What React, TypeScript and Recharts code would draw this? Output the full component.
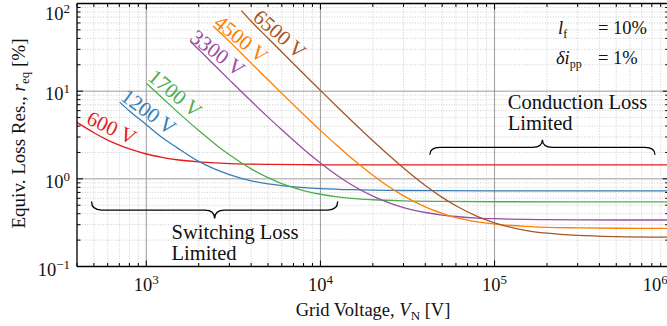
import React from "react";
import { LineChart, Line, XAxis, YAxis, CartesianGrid, ReferenceDot, ReferenceLine } from "recharts";

const FONT = '"Liberation Serif", "DejaVu Serif", serif';

// axis ticks
const xMajor = [1e3, 1e4, 1e5, 1e6];
const xMinor = [
  400, 500, 600, 700, 800, 900,
  2e3, 3e3, 4e3, 5e3, 6e3, 7e3, 8e3, 9e3,
  2e4, 3e4, 4e4, 5e4, 6e4, 7e4, 8e4, 9e4,
  2e5, 3e5, 4e5, 5e5, 6e5, 7e5, 8e5, 9e5,
];
const yMajor = [0.1, 1, 10, 100];
const yMinor = [
  0.2, 0.3, 0.4, 0.5, 0.6, 0.7, 0.8, 0.9,
  2, 3, 4, 5, 6, 7, 8, 9,
  20, 30, 40, 50, 60, 70, 80, 90,
];
const allX = [...xMinor, ...xMajor].sort((a, b) => a - b);
const allY = [...yMinor, ...yMajor].sort((a, b) => a - b);

// series: grid voltage [V] and equivalent loss resistance [%]
const v600 = [400, 500, 600, 700, 800, 1000, 1250, 1500, 2000, 2500, 3000, 4000, 5000, 8000, 10000, 100000, 1000000];
const r600 = [4.4, 3.36, 2.77, 2.42, 2.19, 1.92, 1.75, 1.65, 1.56, 1.52, 1.49, 1.47, 1.46, 1.45, 1.445, 1.44, 1.44];

const v1200 = [703, 800, 1000, 1250, 1500, 2000, 2500, 3000, 4000, 5000, 6000, 8000, 10000, 15000, 20000, 30000, 50000, 100000, 1000000];
const r1200 = [7.5, 5.95, 4.15, 2.9, 2.27, 1.58, 1.28, 1.12, 0.95, 0.875, 0.835, 0.795, 0.775, 0.752, 0.743, 0.736, 0.732, 0.73, 0.73];

const v1700 = [1000, 1250, 1500, 2000, 2500, 3000, 4000, 5000, 6000, 8000, 10000, 12500, 15000, 20000, 30000, 50000, 100000, 1000000];
const r1700 = [12.3, 8.2, 5.88, 3.55, 2.47, 1.88, 1.3, 1.03, 0.88, 0.735, 0.667, 0.624, 0.6, 0.577, 0.56, 0.552, 0.548, 0.547];

const v3300 = [1790, 2000, 2500, 3000, 4000, 5000, 6000, 8000, 10000, 12500, 15000, 20000, 25000, 30000, 40000, 50000, 60000, 80000, 100000, 150000, 200000, 300000, 1000000];
const r3300 = [36.8, 29.8, 19.2, 13.45, 7.71, 5.06, 3.62, 2.18, 1.52, 1.094, 0.863, 0.634, 0.528, 0.47, 0.413, 0.386, 0.372, 0.357, 0.351, 0.344, 0.342, 0.34, 0.339];

const v4500 = [2415, 3000, 4000, 5000, 6000, 8000, 10000, 12500, 15000, 20000, 25000, 30000, 40000, 50000, 60000, 80000, 100000, 150000, 200000, 300000, 500000, 1000000];
const r4500 = [55.5, 37.0, 20.9, 13.5, 9.44, 5.43, 3.57, 2.38, 1.74, 1.1, 0.8, 0.639, 0.478, 0.404, 0.36, 0.322, 0.305, 0.287, 0.28, 0.276, 0.273, 0.272];

const v6500 = [3516, 4000, 5000, 6000, 8000, 10000, 12500, 15000, 20000, 25000, 30000, 40000, 50000, 60000, 80000, 100000, 150000, 200000, 300000, 500000, 1000000];
const r6500 = [83, 62.7, 40.2, 28.0, 15.8, 10.2, 6.6, 4.66, 2.72, 1.82, 1.33, 0.84, 0.615, 0.493, 0.371, 0.315, 0.259, 0.24, 0.226, 0.219, 0.216];

const zip = (v: number[], r: number[]) => v.map((x, i) => ({ v: x, r: r[i] }));

const series = [
  { name: "600 V", color: "#e41a1c", data: zip(v600, r600), at: [632, 3.81], angle: 25 },
  { name: "1200 V", color: "#377eb8", data: zip(v1200, r1200), at: [1031, 5.8], angle: 36 },
  { name: "1700 V", color: "#4daf4a", data: zip(v1700, r1700), at: [1464, 9.41], angle: 40 },
  { name: "3300 V", color: "#984ea3", data: zip(v3300, r3300), at: [2570, 27.2], angle: 37 },
  { name: "4500 V", color: "#ff7f00", data: zip(v4500, r4500), at: [3508, 39.3], angle: 39 },
  { name: "6500 V", color: "#a65628", data: zip(v6500, r6500), at: [5835, 44.8], angle: 41 },
];

// layout
const W = 700;
const H = 326;
const M = { top: 3.5, right: 31.3, bottom: 0, left: 0 };
const YW = 77;
const XH = 59.5;
const PW = W - M.left - M.right - YW;
const PH = H - M.top - M.bottom - XH;

const tickLen = (major: boolean) => (major ? 6 : 3.5);

function XTick(p: any) {
  const v = p.payload.value;
  const major = xMajor.includes(v);
  const e = Math.round(Math.log10(v));
  const last = v === xMajor[xMajor.length - 1];
  const L = tickLen(major);
  return (
    <g>
      <line x1={p.x} x2={p.x} y1={p.y} y2={p.y - L} stroke="#000" strokeWidth={1} />
      <line x1={p.x} x2={p.x} y1={p.y - PH} y2={p.y - PH + L} stroke="#000" strokeWidth={1} />
      {major && (
        <text x={p.x + (last ? -1 : 0)} y={p.y + 24.5} textAnchor={last ? "end" : "middle"} fontFamily={FONT} fontSize={18.5} fill="#111">
          10<tspan dy={-7} fontSize={13}>{e}</tspan>
        </text>
      )}
    </g>
  );
}

function YTick(p: any) {
  const v = p.payload.value;
  const major = yMajor.includes(v);
  const e = Math.round(Math.log10(v));
  const top = v === yMajor[yMajor.length - 1];
  const L = tickLen(major);
  return (
    <g>
      <line x1={p.x} x2={p.x + L} y1={p.y} y2={p.y} stroke="#000" strokeWidth={1} />
      <line x1={p.x + PW} x2={p.x + PW - L} y1={p.y} y2={p.y} stroke="#000" strokeWidth={1} />
      {major && (
        <text x={p.x - 7} y={p.y + (top ? 16 : 9)} textAnchor="end" fontFamily={FONT} fontSize={18.5} fill="#111">
          10<tspan dy={-7} fontSize={13}>{e < 0 ? "\u2212" + Math.abs(e) : e}</tspan>
        </text>
      )}
    </g>
  );
}

const gridLine = (vals: number[], majors: number[]) => (p: any) => {
  const v = vals[p.index];
  if (v === undefined) return <g key={p.key} />;
  const major = majors.includes(v);
  return (
    <line
      key={p.key}
      x1={p.x1}
      y1={p.y1}
      x2={p.x2}
      y2={p.y2}
      stroke={major ? "#9c9c9c" : "#c4c4c4"}
      strokeWidth={major ? 1 : 0.8}
      strokeDasharray={major ? undefined : "1 1.6"}
    />
  );
};

const label = (text: string, color: string, angle: number) => (p: any) => (
  <text x={p.cx} y={p.cy} transform={`rotate(${angle} ${p.cx} ${p.cy})`} textAnchor="middle" dominantBaseline="central" fill={color} fontFamily={FONT} fontSize={21}>
    {text}
  </text>
);

const twoLines = (a: string, b: string) => (p: any) => (
  <text x={p.cx} y={p.cy} fontFamily={FONT} fontSize={20.5} fill="#111">
    <tspan x={p.cx}>{a}</tspan>
    <tspan x={p.cx} dy={21}>{b}</tspan>
  </text>
);

const brace = (h: number) => (p: any) => {
  const xa = Math.min(p.x1, p.x2);
  const xb = Math.max(p.x1, p.x2);
  const y = p.y1;
  const mid = (xa + xb) / 2;
  const ym = y + h / 2;
  const yc = y + h;
  const r = 10;
  const d = `M${xa},${y} Q${xa},${ym} ${xa + r},${ym} L${mid - r},${ym} Q${mid},${ym} ${mid},${yc} Q${mid},${ym} ${mid + r},${ym} L${xb - r},${ym} Q${xb},${ym} ${xb},${y}`;
  return <path d={d} fill="none" stroke="#000" strokeWidth={1.3} />;
};

export default function App() {
  return (
    <div style={{ position: "absolute", left: 0, top: 0, width: 667, height: 326, overflow: "hidden", background: "#fff" }}>
      <LineChart width={W} height={H} margin={M}>
        <CartesianGrid vertical={gridLine(allX, xMajor)} horizontal={gridLine(allY, yMajor)} />
        <XAxis
          type="number"
          scale="log"
          dataKey="v"
          domain={[400, 1e6]}
          allowDataOverflow
          ticks={allX}
          interval={0}
          height={XH}
          tickLine={false}
          tickSize={0}
          tickMargin={0}
          axisLine={{ stroke: "#000", strokeWidth: 1.3 }}
          tick={(p: any) => <XTick {...p} />}
        />
        <YAxis
          type="number"
          scale="log"
          domain={[0.1, 100]}
          allowDataOverflow
          ticks={allY}
          interval={0}
          width={YW}
          tickLine={false}
          tickSize={0}
          tickMargin={0}
          axisLine={{ stroke: "#000", strokeWidth: 1.3 }}
          tick={(p: any) => <YTick {...p} />}
        />

        {series.map((s) => (
          <Line key={s.name} data={s.data} dataKey="r" type="monotone" stroke={s.color} strokeWidth={1.3} dot={false} activeDot={false} isAnimationActive={false} />
        ))}

        <ReferenceLine y={100} stroke="#000" strokeWidth={1.3} />
        <ReferenceLine x={1e6} stroke="#000" strokeWidth={1.3} />

        {series.map((s) => (
          <ReferenceDot key={"l" + s.name} x={s.at[0]} y={s.at[1]} r={0} shape={label(s.name, s.color, s.angle)} />
        ))}

        <ReferenceLine segment={[{ x: 485, y: 0.551 }, { x: 12560, y: 0.551 }]} shape={brace(17)} />
        <ReferenceLine segment={[{ x: 42500, y: 1.877 }, { x: 834000, y: 1.877 }]} shape={brace(-15)} />
        <ReferenceDot x={1397} y={0.207} r={0} shape={twoLines("Switching Loss", "Limited")} />
        <ReferenceDot x={119000} y={6.27} r={0} shape={twoLines("Conduction Loss", "Limited")} />

        <text x={558} y={33.5} fontFamily={FONT} fontSize={18.5} fill="#111">
          <tspan fontStyle="italic">l</tspan>
          <tspan fontSize={12} dy={4}>f</tspan>
        </text>
        <text x={598} y={33.5} fontFamily={FONT} fontSize={18.5} fill="#111">= 10%</text>
        <text x={556} y={63.5} fontFamily={FONT} fontSize={18.5} fill="#111">
          <tspan fontStyle="italic">δi</tspan>
          <tspan fontSize={12} dy={4}>pp</tspan>
        </text>
        <text x={598} y={63.5} fontFamily={FONT} fontSize={18.5} fill="#111">= 1%</text>

        <text x={373} y={316} textAnchor="middle" fontFamily={FONT} fontSize={18.5} fill="#111">
          Grid Voltage,{" "}<tspan fontStyle="italic">V</tspan><tspan fontSize={13} dy={4}>N</tspan><tspan dy={-4}>{" "}[V]</tspan>
        </text>
        <text x={25} y={133.5} transform="rotate(-90 25 133.5)" textAnchor="middle" fontFamily={FONT} fontSize={19} fill="#111">
          Equiv. Loss Res.,{" "}<tspan fontStyle="italic">r</tspan><tspan fontSize={13} dy={4}>eq</tspan><tspan dy={-4}>{" "}[%]</tspan>
        </text>
      </LineChart>
    </div>
  );
}
